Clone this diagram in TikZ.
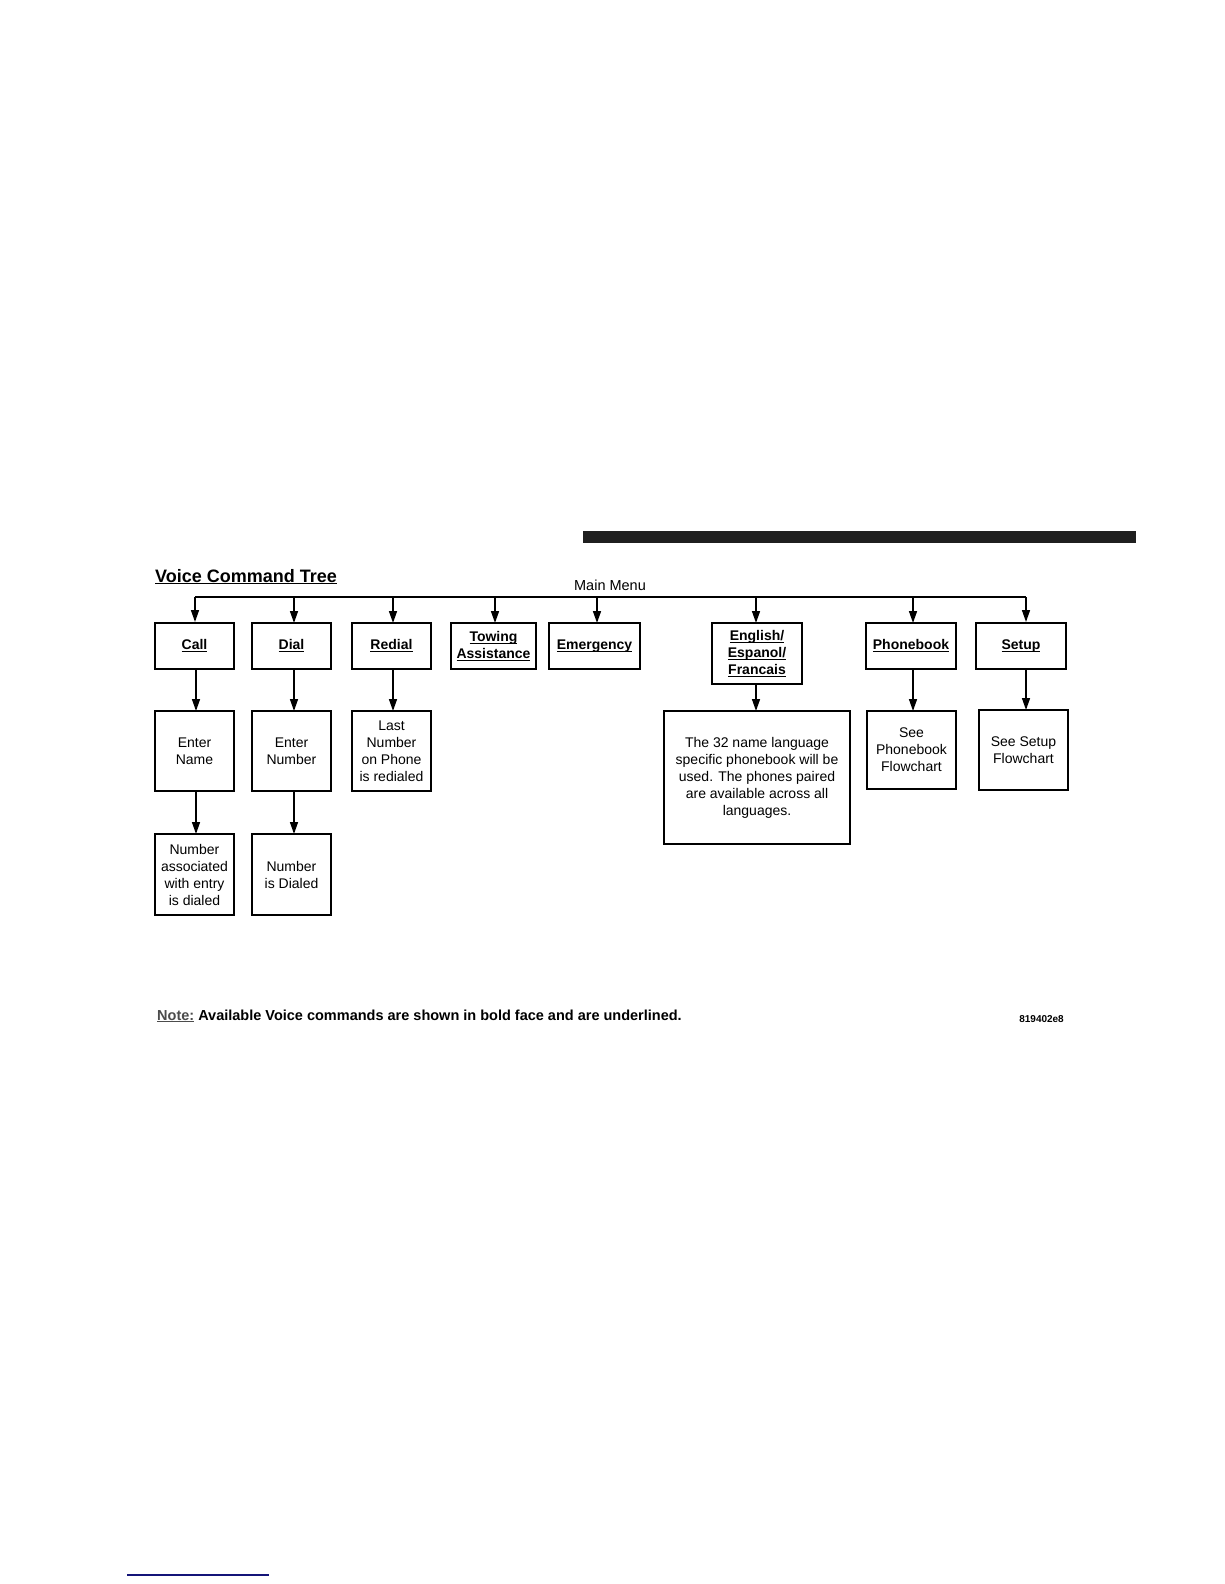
\documentclass[tikz,border=0pt]{standalone}
\usepackage{fontspec}
\setmainfont{Liberation Sans}
\usetikzlibrary{arrows.meta}
\newcommand\myul[1]{\underline{\smash{#1}}\vphantom{A}}
\begin{document}
\begin{tikzpicture}[x=1pt,y=-1pt,
  box/.style={draw=black,line width=2pt,align=center,inner sep=0pt,
    font=\fontsize{14}{17}\selectfont},
  cmd/.style={box,font=\fontsize{14}{17}\selectfont\bfseries},
  arr/.style={line width=1.5pt,-{Triangle[length=12pt,width=8pt]}},
  bus/.style={line width=1.5pt}]
\useasboundingbox (0,0) rectangle (1224,1584);
\fill[fill=white] (0,0) rectangle (1224,1584);
% header bar
\fill[black!88] (583,531) rectangle (1136,543);
% title
\node[anchor=base west,inner sep=0pt,font=\fontsize{18}{20}\selectfont\bfseries] (title) at (155,582) {\myul{Voice Command Tree}};
\node[anchor=base,inner sep=0pt,font=\fontsize{14.5}{17}\selectfont] (mainmenu) at (610,590) {Main Menu};
% top row
\node[cmd,minimum width=79pt,minimum height=46pt] (call) at (194.5,646) {\myul{Call}};
\node[cmd,minimum width=79pt,minimum height=46pt] (dial) at (291.5,646) {\myul{Dial}};
\node[cmd,minimum width=79pt,minimum height=46pt] (redial) at (391.5,646) {\myul{Redial}};
\node[cmd,minimum width=85pt,minimum height=46pt] (towing) at (493.5,646) {\myul{Towing}\\\myul{Assistance}};
\node[cmd,minimum width=91pt,minimum height=46pt] (emerg) at (594.5,646) {\myul{Emergency}};
\node[cmd,minimum width=90pt,minimum height=61pt] (lang) at (757,653.5) {\myul{English/}\\\myul{Espanol/}\\\myul{Francais}};
\node[cmd,minimum width=90pt,minimum height=46pt] (phone) at (911,646) {\myul{Phonebook}};
\node[cmd,minimum width=90pt,minimum height=46pt] (setup) at (1021,646) {\myul{Setup}};
% bus
\coordinate (busL) at (195,597);
\coordinate (busR) at (1026,597);
\draw[bus] (busL) -- (busR);
\draw[arr] (busL) -- (busL |- call.north);
\draw[arr] (294,597) -- (294,623);
\draw[arr] (393,597) -- (393,623);
\draw[arr] (495,597) -- (495,623);
\draw[arr] (597,597) -- (597,623);
\draw[arr] (756,597) -- (756,623);
\draw[arr] (913,597) -- (913,623);
\draw[arr] (busR) -- (busR |- setup.north);
% second row
\node[box,minimum width=79pt,minimum height=80pt] (ename) at (194.5,751) {Enter\\Name};
\node[box,minimum width=79pt,minimum height=80pt] (enum) at (291.5,751) {Enter\\Number};
\node[box,minimum width=79pt,minimum height=80pt] (last) at (391.5,751) {Last\\Number\\on Phone\\is redialed};
\node[box,minimum width=186pt,minimum height=133pt] (info) at (757,777.5) {The 32 name language\\specific phonebook will be\\used. The phones paired\\are available across all\\languages.};
\node[box,minimum width=89pt,minimum height=78pt] (seephone) at (911.5,750) {See\\Phonebook\\Flowchart};
\node[box,minimum width=89pt,minimum height=80pt] (seesetup) at (1023.5,750) {See Setup\\Flowchart};
% third row
\node[box,minimum width=79pt,minimum height=81pt] (nassoc) at (194.5,874.5) {Number\\associated\\with entry\\is dialed};
\node[box,minimum width=79pt,minimum height=81pt] (ndial) at (291.5,874.5) {Number\\is Dialed};
% vertical arrows
\draw[arr] (196,669) -- (196,711);
\draw[arr] (294,669) -- (294,711);
\draw[arr] (393,669) -- (393,711);
\draw[arr] (756,684) -- (756,711);
\draw[arr] (913,669) -- (913,711);
\draw[arr] (1026,669) -- (1026,710);
\draw[arr] (196,791) -- (196,834);
\draw[arr] (294,791) -- (294,834);
% footer
\node[anchor=base west,inner sep=0pt,font=\fontsize{14.5}{16}\selectfont\bfseries] (note) at (157,1020) {\textcolor{black!70}{\myul{Note:}} Available Voice commands are shown in bold face and are underlined.};
\node[anchor=base east,inner sep=0pt,font=\fontsize{10}{12}\selectfont\bfseries] (code) at (1064,1022) {819402e8};
% bottom rule
\coordinate (ruleL) at (127,1575);
\coordinate (ruleR) at (269,1575);
\draw[line width=1.5pt,color={rgb,255:red,20;green,20;blue,120}] (ruleL) -- (ruleR);
\end{tikzpicture}
\end{document}
